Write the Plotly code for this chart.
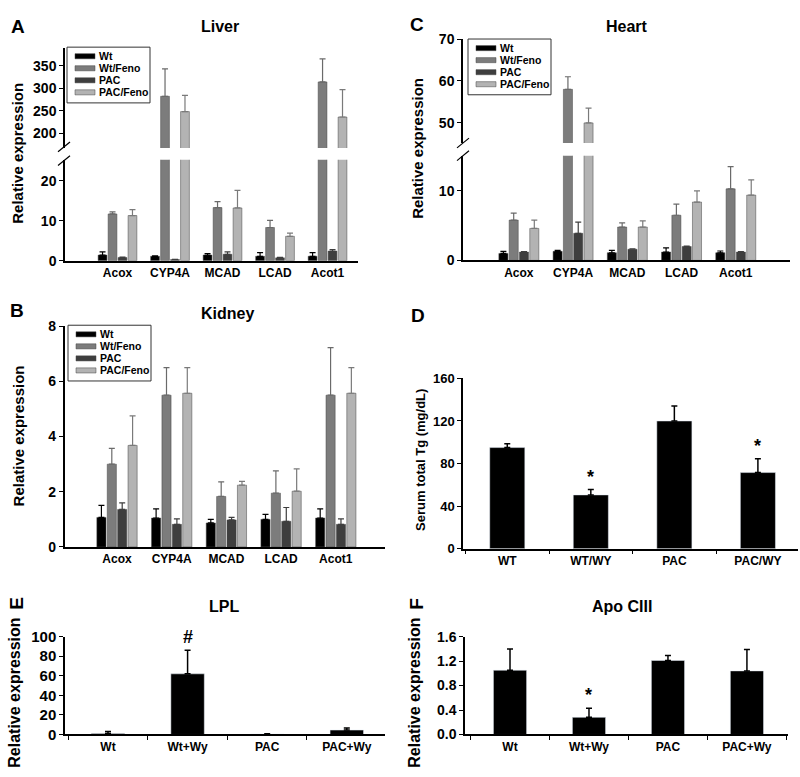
import plotly.graph_objects as go

genes = ["Acox", "CYP4A", "MCAD", "LCAD", "Acot1"]
series = ["Wt", "Wt/Feno", "PAC", "PAC/Feno"]

# rows follow `series`
liver_mean = [[1.4, 1.1, 1.4, 1.1, 1.1],
              [11.7, 282, 13.3, 8.3, 314],
              [0.8, 0.3, 1.6, 0.7, 2.4],
              [11.3, 248, 13.2, 6.1, 236]]
liver_err = [[0.8, 0.1, 0.4, 0.9, 0.9],
             [0.5, 61, 1.5, 1.8, 51],
             [0.1, 0.0, 0.6, 0.1, 0.4],
             [1.5, 36, 4.4, 0.8, 61]]

heart_mean = [[1.0, 1.3, 1.1, 1.2, 1.1],
              [5.8, 58.0, 4.8, 6.5, 10.3],
              [1.2, 3.9, 1.6, 2.0, 1.2],
              [4.6, 50.0, 4.8, 8.4, 9.4]]
heart_err = [[0.3, 0.15, 0.35, 0.6, 0.25],
             [1.0, 3.0, 0.6, 1.6, 3.2],
             [0.05, 1.6, 0.05, 0.05, 0.05],
             [1.2, 3.5, 0.9, 1.6, 2.2]]

kidney_mean = [[1.07, 1.05, 0.87, 1.0, 1.05],
               [3.0, 5.5, 1.83, 1.95, 5.5],
               [1.36, 0.82, 0.98, 0.93, 0.82],
               [3.68, 5.57, 2.24, 2.02, 5.57]]
kidney_err = [[0.44, 0.33, 0.13, 0.18, 0.33],
              [0.57, 1.0, 0.53, 0.81, 1.72],
              [0.24, 0.2, 0.09, 0.5, 0.2],
              [1.07, 0.93, 0.14, 0.81, 0.93]]

tg_groups = ["WT", "WT/WY", "PAC", "PAC/WY"]
tg_mean = [95, 50.5, 120, 71.5]
tg_err = [3.5, 5, 14, 13]
tg_marks = ["", "*", "", "*"]

wy_groups = ["Wt", "Wt+Wy", "PAC", "PAC+Wy"]
lpl_mean = [1.0, 62, 0.5, 4.5]
lpl_err = [2.0, 24, 0.3, 2.0]
lpl_marks = ["", "#", "", ""]

apo_mean = [1.05, 0.28, 1.21, 1.04]
apo_err = [0.35, 0.15, 0.08, 0.35]
apo_marks = ["", "*", "", ""]

bar_colors = ["#000000", "#7c7c7c", "#3e3e3e", "#b3b3b3"]
err_colors = ["#000000", "#6a6a6a", "#3e3e3e", "#7a7a7a"]

FONT = "Liberation Sans, Arial, sans-serif"
W, H = 800, 777


def px(x):
    return x / W


def py(y):
    return 1 - y / H


fig = go.Figure()


def add_grouped(mean, err, xa, ya):
    for i, name in enumerate(series):
        fig.add_trace(go.Bar(
            x=genes, y=mean[i], name=name,
            marker=dict(color=bar_colors[i], line=dict(width=0.5, color="#444")),
            error_y=dict(type="data", array=err[i], arrayminus=[0] * len(genes),
                         symmetric=False, color=err_colors[i], thickness=1.2, width=3),
            xaxis=xa, yaxis=ya, showlegend=False,
        ))


def add_single(cats, mean, err, xa, ya):
    fig.add_trace(go.Bar(
        x=cats, y=mean, width=0.42,
        marker=dict(color="#000000"),
        error_y=dict(type="data", array=err, arrayminus=[0] * len(cats),
                     symmetric=False, color="#000000", thickness=1.5, width=3),
        xaxis=xa, yaxis=ya, showlegend=False,
    ))


# A: liver (broken axis, upper + lower)
add_grouped(liver_mean, liver_err, "x", "y")
add_grouped(liver_mean, liver_err, "x2", "y2")
# C: heart
add_grouped(heart_mean, heart_err, "x3", "y3")
add_grouped(heart_mean, heart_err, "x4", "y4")
# B: kidney
add_grouped(kidney_mean, kidney_err, "x5", "y5")
# D, E, F
add_single(tg_groups, tg_mean, tg_err, "x6", "y6")
add_single(wy_groups, lpl_mean, lpl_err, "x7", "y7")
add_single(wy_groups, apo_mean, apo_err, "x8", "y8")

tickf = dict(family=FONT, size=14, color="black", weight="bold")
xtickf = dict(family=FONT, size=12, color="black", weight="bold")


def yax(dom, rng, tickvals, anchor, ticktext=None, size=14):
    return dict(domain=dom, range=rng, tickvals=tickvals, ticktext=ticktext,
                anchor=anchor, showline=True, linecolor="black", linewidth=1.5,
                ticks="outside", ticklen=4, tickcolor="black", showgrid=False,
                zeroline=False, tickfont=dict(tickf, size=size))


def xax(dom, rng, anchor, show=True, boundaries=False, size=12):
    d = dict(domain=dom, range=rng, anchor=anchor, showgrid=False, zeroline=False,
             showline=show, linecolor="black", linewidth=1.5,
             showticklabels=show, tickfont=dict(xtickf, size=size))
    if boundaries:
        d.update(ticks="outside", tickson="boundaries", ticklen=4, tickcolor="black")
    else:
        d.update(ticks="")
    return d


fig.update_layout(
    width=W, height=H, margin=dict(l=0, r=0, t=0, b=0),
    plot_bgcolor="white", paper_bgcolor="white",
    font=dict(family=FONT, color="black"),
    barmode="group", bargap=0.24, bargroupgap=0.12,
    xaxis=xax([px(65), px(358)], [-1, 4.58], "y", show=False),
    yaxis=yax([py(142), py(40)], [167.4, 389], [200, 250, 300, 350], "x"),
    xaxis2=xax([px(65), px(358)], [-1, 4.58], "y2"),
    yaxis2=yax([py(257.3), py(154)], [0, 25.3], [0, 10, 20], "x2"),
    xaxis3=xax([px(463), px(790)], [-1.03, 5.0], "y3", show=False),
    yaxis3=yax([py(137), py(30.7)], [45.2, 70], [50, 60, 70], "x3"),
    xaxis4=xax([px(463), px(790)], [-1.03, 5.0], "y4"),
    yaxis4=yax([py(257), py(150)], [0, 15.07], [0, 10], "x4"),
    xaxis5=xax([px(64.5), px(385)], [-0.96, 4.9], "y5"),
    yaxis5=yax([py(550), py(324.3)], [0, 8], [0, 2, 4, 6, 8], "x5"),
    xaxis6=xax([px(463), px(798)], [-0.53, 3.48], "y6", boundaries=True),
    yaxis6=yax([py(551.7), py(377.7)], [0, 160], [0, 40, 80, 120, 160], "x6", size=13),
    xaxis7=xax([px(65), px(385)], [-0.54, 3.48], "y7", boundaries=True),
    yaxis7=yax([py(741.7), py(641.7)], [0, 100], [0, 20, 40, 60, 80, 100], "x7", size=15),
    xaxis8=xax([px(465), px(788)], [-0.57, 3.52], "y8", boundaries=True),
    yaxis8=yax([py(741.7), py(641.7)], [0, 1.6], [0, 0.4, 0.8, 1.2, 1.6], "x8",
               ticktext=["0.0", "0.4", "0.8", "1.2", "1.6"], size=14),
)

bold = dict(family=FONT, color="black", weight="bold")
annotations = []
shapes = []


def label(text, x, y, size, angle=0, anchor="center"):
    annotations.append(dict(text=text, x=px(x), y=py(y), xref="paper", yref="paper",
                            showarrow=False, textangle=angle,
                            font=dict(bold, size=size), xanchor=anchor, yanchor="middle"))


label("A", 18, 18, 19)
label("C", 417, 16, 19)
label("B", 17, 308, 19)
label("D", 418, 313, 19)
label("E", 17, 608, 19, -90)
label("F", 417, 608, 19, -90)

label("Liver", 220, 18, 16)
label("Heart", 627, 18, 16)
label("Kidney", 227, 311, 16)
label("LPL", 224, 611, 16)
label("Apo CIII", 622, 611, 16)

label("Relative expression", 18, 148, 15, -90)
label("Relative expression", 418, 143, 15, -90)
label("Relative expression", 18, 437, 15, -90)
label("Serum total Tg (mg/dL)", 421, 461, 13, -90)
label("Relative expression", 15, 699, 16, -90)
label("Relative expression", 415, 699, 16, -90)

# significance marks above error bars
for cats, mean, err, marks, xa, ya in [
    (tg_groups, tg_mean, tg_err, tg_marks, "x6", "y6"),
    (wy_groups, lpl_mean, lpl_err, lpl_marks, "x7", "y7"),
    (wy_groups, apo_mean, apo_err, apo_marks, "x8", "y8"),
]:
    for c, m, e, mk in zip(cats, mean, err, marks):
        if mk:
            annotations.append(dict(text=mk, x=c, y=m + e, xref=xa, yref=ya,
                                    showarrow=False, yanchor="bottom", yshift=1,
                                    font=dict(bold, size=18)))


# boxed legends (compact, wide swatches like the original)
def legend_box(bx, by):
    shapes.append(dict(type="rect", xref="paper", yref="paper",
                       x0=px(bx), x1=px(bx + 83), y0=py(by + 57), y1=py(by),
                       fillcolor="white", line=dict(color="#333", width=1)))
    for i, name in enumerate(series):
        yc = by + 9.3 + i * 12.3
        shapes.append(dict(type="rect", xref="paper", yref="paper",
                           x0=px(bx + 8), x1=px(bx + 28), y0=py(yc + 2.6), y1=py(yc - 2.6),
                           fillcolor=bar_colors[i], line=dict(color="#444", width=0.5)))
        label(name, bx + 30, yc, 10.5, anchor="left")


legend_box(67, 39)
legend_box(468, 30.7)
legend_box(68, 323.3)

# axis break marks
for xc, ys in [(64, (141, 155)), (463, (137, 150))]:
    for yc in ys:
        shapes.append(dict(type="line", xref="paper", yref="paper",
                           x0=px(xc - 6), y0=py(yc + 5), x1=px(xc + 6), y1=py(yc - 5),
                           line=dict(color="black", width=1.2)))

fig.update_layout(annotations=annotations, shapes=shapes)

# body margin off so the 800x777 figure sits flush in the window
fig.write_html("out.html", config={"displayModeBar": False},
               post_script="document.body.style.margin='0';document.body.style.overflow='hidden';")
